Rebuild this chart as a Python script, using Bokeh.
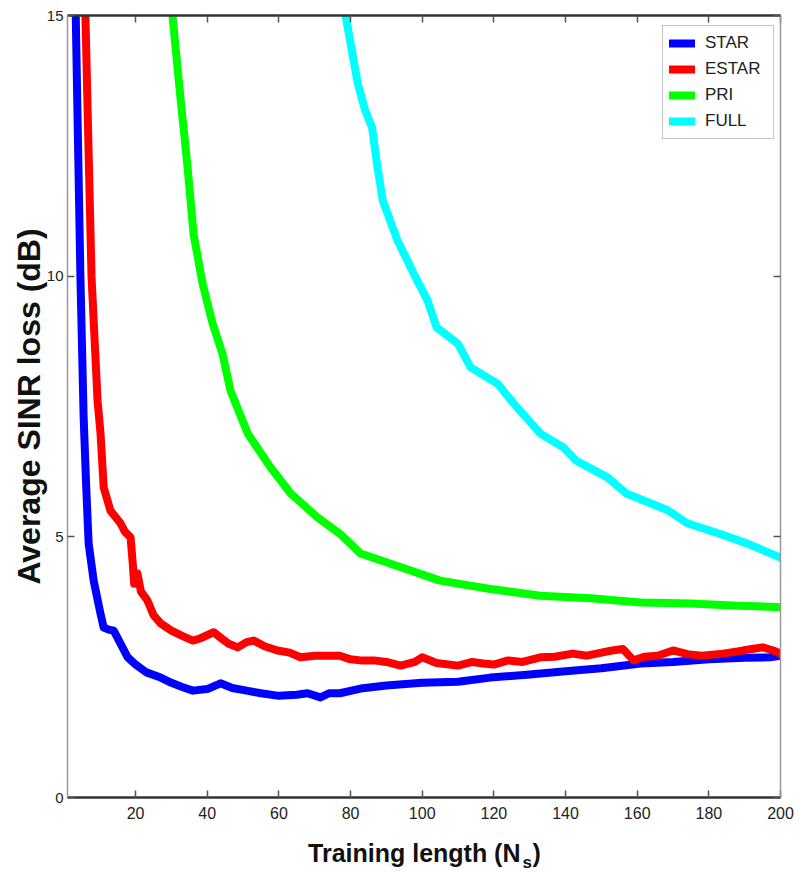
from bokeh.plotting import figure
from bokeh.layouts import column
from bokeh.models import (FixedTicker, LinearAxis, Range1d, Legend, LegendItem)
from bokeh.core.properties import value
from bokeh.embed import file_html
from bokeh.resources import INLINE

# ---------------- data ----------------
star_x = [3.3, 4.6, 5.5, 6.2, 6.9, 8.3, 10.2, 11.1, 12.5, 13.9, 15.8, 17.8, 20, 23, 27, 30, 33,
          36, 40, 43.7, 47, 51, 55, 60, 65, 68, 71.6, 74, 77, 82.8, 90, 100, 110, 119, 130,
          140, 150, 161, 170, 180, 190, 197, 200]
star_y = [15, 10, 7.3, 6.0, 4.87, 4.16, 3.53, 3.26, 3.22, 3.2, 2.95, 2.69, 2.55, 2.4, 2.30, 2.2,
          2.12, 2.05, 2.08, 2.19, 2.1, 2.05, 2.0, 1.95, 1.97, 2.0, 1.92, 2.0, 2.0, 2.09, 2.15,
          2.2, 2.22, 2.30, 2.36, 2.42, 2.48, 2.57, 2.6, 2.65, 2.68, 2.69, 2.72]

estar_x = [6, 7.7, 9.4, 10.2, 11.1, 13, 15.8, 17, 18.6, 19.2, 19.6, 20.5, 21.5, 23.3, 25, 27,
           30, 33, 36, 38, 41.8, 44, 46, 48.5, 51, 53, 56, 59.6, 63, 66, 70, 73.6, 77, 80,
           82.8, 86.5, 90, 94, 98, 100, 104, 110, 114, 117, 120, 124, 128, 133, 137, 142, 146,
           150, 153, 156, 159, 162, 165.7, 170, 174, 178, 184, 188, 192, 195, 198, 200]
estar_y = [15, 10, 7.6, 7.0, 5.95, 5.5, 5.26, 5.1, 4.99, 4.5, 4.1, 4.3, 3.95, 3.78, 3.5, 3.34,
           3.2, 3.1, 3.01, 3.05, 3.17, 3.05, 2.95, 2.88, 2.98, 3.01, 2.9, 2.82, 2.78, 2.69,
           2.72, 2.72, 2.72, 2.65, 2.63, 2.63, 2.6, 2.53, 2.6, 2.69, 2.58, 2.53, 2.6, 2.57,
           2.55, 2.63, 2.6, 2.69, 2.7, 2.76, 2.72, 2.78, 2.82, 2.85, 2.63, 2.7, 2.72, 2.82,
           2.75, 2.72, 2.76, 2.8, 2.85, 2.88, 2.82, 2.76]

pri_x = [30.3, 32.6, 34.5, 36.2, 38.7, 41.5, 44.3, 46.5, 51.3, 57.7, 63.3, 70.8, 77, 82.8, 91,
         105, 119, 133, 147, 161, 175, 188, 200]
pri_y = [15, 13.37, 12.1, 10.8, 9.86, 9.09, 8.5, 7.8, 6.98, 6.33, 5.83, 5.37, 5.06, 4.68, 4.49,
         4.16, 4.0, 3.87, 3.82, 3.74, 3.72, 3.68, 3.65]

full_x = [78.6, 82, 84, 86, 87.5, 89, 93, 97.6, 101.5, 104, 110, 113.5, 121, 125.5, 133, 139.5,
          143, 151.7, 157, 168.5, 174, 183, 190.8, 200]
full_y = [15, 13.7, 13.2, 12.85, 12.1, 11.45, 10.7, 10.05, 9.53, 9.02, 8.7, 8.25, 7.94, 7.56,
          6.98, 6.71, 6.46, 6.14, 5.83, 5.51, 5.26, 5.06, 4.87, 4.60]

series_names = ["STAR", "ESTAR", "PRI", "FULL"]
series_colors = ["#0000FF", "#FF0000", "#00FF00", "#00FFFF"]

x_ticks = [20, 40, 60, 80, 100, 120, 140, 160, 180, 200]
y_ticks = [0, 5, 10, 15]

x_title_parts = ["Training length (N", "s", ")"]

FONT = "Liberation Sans"

# ---------------- main figure ----------------
p = figure(width=800, height=830, output_backend="svg", toolbar_location=None,
           x_range=Range1d(1, 200), y_range=Range1d(0, 15),
           min_border_left=67, min_border_right=20, min_border_top=15, min_border_bottom=33,
           x_axis_location=None, y_axis_location=None)
p.background_fill_color = "white"
p.border_fill_color = "white"
p.outline_line_color = None
p.xgrid.visible = False
p.ygrid.visible = False

renderers = []
for xs, ys, c in zip([star_x, estar_x, pri_x, full_x], [star_y, estar_y, pri_y, full_y], series_colors):
    r = p.line(xs, ys, line_color=c, line_width=8, line_join="round", line_cap="round")
    renderers.append(r)

def style_axis(ax, line_color, line_width, labels=True, font_size="16px", standoff=7):
    ax.axis_line_color = line_color
    ax.axis_line_width = line_width
    ax.major_tick_line_color = "#555555"
    ax.major_tick_line_width = 1.5
    ax.major_tick_in = 7
    ax.major_tick_out = 0
    ax.minor_tick_line_color = None
    if labels:
        ax.major_label_text_font = FONT
        ax.major_label_text_font_size = font_size
        ax.major_label_text_color = "#222222"
        ax.major_label_standoff = standoff
    else:
        ax.major_label_text_font_size = "1px"
        ax.major_label_standoff = 0

bottom = LinearAxis(ticker=FixedTicker(ticks=x_ticks))
style_axis(bottom, "#333333", 2.5, font_size="16px", standoff=9)
p.add_layout(bottom, "below")

left = LinearAxis(ticker=FixedTicker(ticks=y_ticks))
style_axis(left, "#999999", 1.5, font_size="15px", standoff=4)
left.axis_label = "Average SINR loss (dB)"
left.axis_label_text_font = FONT
left.axis_label_text_font_style = "bold"
left.axis_label_text_font_size = "32px"
left.axis_label_text_color = "#111111"
left.axis_label_standoff = -3
p.add_layout(left, "left")

top = LinearAxis(ticker=FixedTicker(ticks=x_ticks))
style_axis(top, "#333333", 2.5, labels=False)
top.major_label_overrides = {t: "" for t in x_ticks}
p.add_layout(top, "above")

right = LinearAxis(ticker=FixedTicker(ticks=y_ticks))
style_axis(right, "#999999", 1.5, labels=False)
right.major_label_overrides = {t: "" for t in y_ticks}
p.add_layout(right, "right")

legend = Legend(items=[LegendItem(label=n, renderers=[r]) for n, r in zip(series_names, renderers)],
                location=(595, 658))
legend.border_line_color = "#888888"
legend.border_line_width = 1.5
legend.background_fill_color = "white"
legend.label_text_font = FONT
legend.label_text_font_size = "17px"
legend.label_text_color = "#222222"
legend.glyph_width = 26
legend.glyph_height = 22
legend.label_height = 22
legend.label_width = 62
legend.label_standoff = 10
legend.spacing = 4
legend.padding = 6
legend.margin = 0
p.add_layout(legend, "center")

# ---------------- x-axis title strip (with subscript) ----------------
t = figure(width=800, height=42, output_backend="svg", toolbar_location=None,
           x_range=Range1d(67, 780), y_range=Range1d(872, 830),
           min_border=0, min_border_left=67, min_border_right=20,
           min_border_top=0, min_border_bottom=0,
           x_axis_location=None, y_axis_location=None)
t.background_fill_color = "white"
t.border_fill_color = "white"
t.outline_line_color = None
t.xgrid.visible = False
t.ygrid.visible = False
t.text(x=[520], y=[852], text=[x_title_parts[0]], text_font=value(FONT), text_font_style="bold",
       text_font_size="25px", text_color="#111111", text_align="right", text_baseline="alphabetic")
t.text(x=[522], y=[862], text=[x_title_parts[1]], text_font=value(FONT), text_font_style="bold",
       text_font_size="17px", text_color="#111111", text_align="left", text_baseline="alphabetic")
t.text(x=[532], y=[852], text=[x_title_parts[2]], text_font=value(FONT), text_font_style="bold",
       text_font_size="25px", text_color="#111111", text_align="left", text_baseline="alphabetic")

layout = column(p, t, spacing=0)
open("out.html", "w").write(file_html(layout, INLINE))
